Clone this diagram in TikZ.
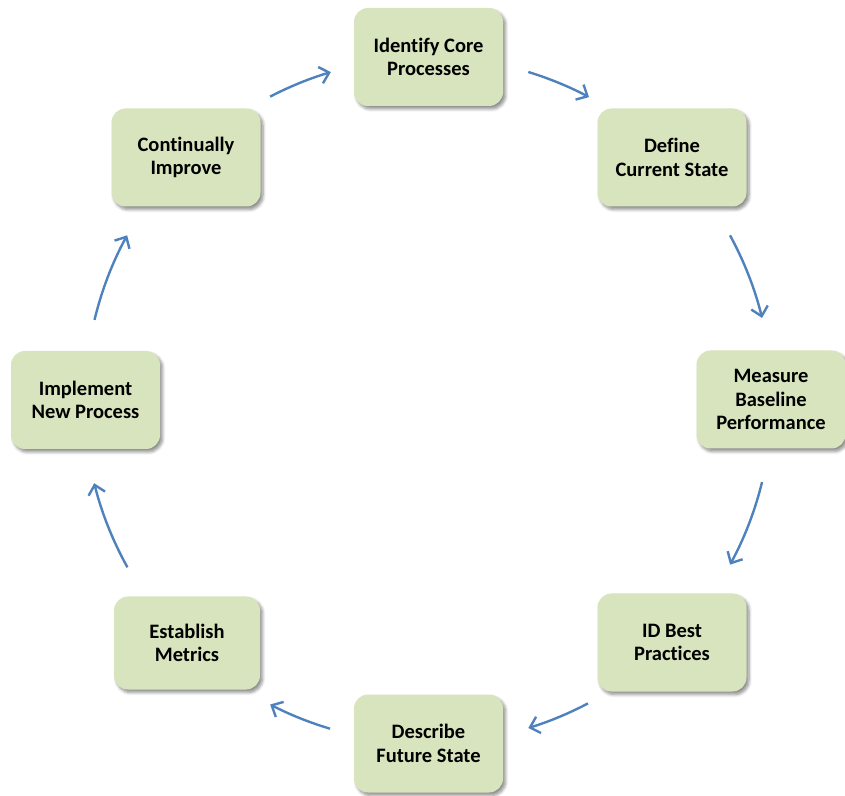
\documentclass[tikz,border=0pt]{standalone}
\usepackage{fontspec}
\setmainfont{Carlito}[Ligatures={NoCommon}]
\usetikzlibrary{arrows.meta,shadows.blur}
\definecolor{boxfill}{HTML}{D7E4BD}
\definecolor{arrblue}{HTML}{4F81BD}
\tikzset{
  stepbox/.style={draw=none, fill=boxfill, rounded corners=14pt,
    minimum width=149pt, minimum height=98pt, align=center,
    font=\fontsize{20.5}{23.5}\selectfont\bfseries,
    blur shadow={shadow xshift=2.5pt, shadow yshift=-3pt, shadow blur steps=6, shadow opacity=45, shadow blur radius=3pt}},
  arr/.style={draw=arrblue, line width=2.4pt, -{Straight Barb[length=9pt,width=17pt,line width=2.4pt]}}
}
\begin{document}
\begin{tikzpicture}[x=1pt,y=1pt]
\useasboundingbox (0,0) rectangle (845,795);
% centre of the cycle (pixel y flipped: y = 795 - ypix)
\coordinate (c) at (428,395);
\node[stepbox] (n1) at (428.5,738) {Identify Core\\Processes};
\node[stepbox] (n2) at (672,637.5) {Define\\Current State};
\node[stepbox] (n3) at (771,395.5) {Measure\\Baseline\\Performance};
\node[stepbox] (n4) at (672,152.5) {ID Best\\Practices};
\node[stepbox] (n5) at (428.5,51.5) {Describe\\Future State};
\node[stepbox, minimum width=146pt, minimum height=93pt] (n6) at (187,152) {Establish\\Metrics};
\node[stepbox] (n7) at (85.5,395) {Implement\\New Process};
\node[stepbox] (n8) at (186,637.5) {Continually\\Improve};
\draw[arr] (c) ++(73:343) arc[start angle=73, end angle=62, radius=343];
\draw[arr] (c) ++(28.6:344) arc[start angle=28.6, end angle=13.8, radius=344];
\draw[arr] (c) ++(-13.8:344) arc[start angle=-13.8, end angle=-28.6, radius=344];
\draw[arr] (c) ++(-62.2:343) arc[start angle=-62.2, end angle=-73, radius=343];
\draw[arr] (c) ++(-106.6:343) arc[start angle=-106.6, end angle=-117.4, radius=343];
\draw[arr] (c) ++(-150.9:344) arc[start angle=-150.9, end angle=-166, radius=344];
\draw[arr] (c) ++(166.5:343) arc[start angle=166.5, end angle=151.3, radius=343];
\draw[arr] (c) ++(117.5:342) arc[start angle=117.5, end angle=106.5, radius=342];
\end{tikzpicture}
\end{document}
